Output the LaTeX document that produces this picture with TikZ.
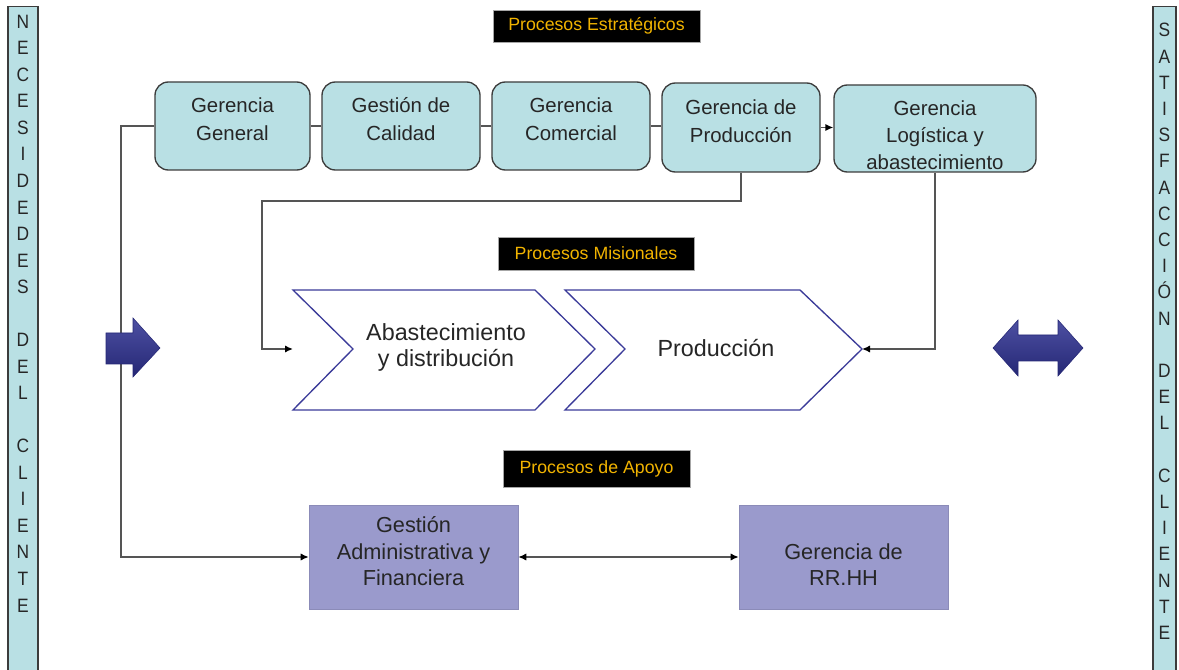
\documentclass[tikz,border=0pt]{standalone}
\usepackage{fontspec}
\setmainfont{Liberation Sans}
\newfontfamily\narrowfont[FakeStretch=0.9]{Liberation Sans}
\usetikzlibrary{arrows.meta}
\definecolor{boxcyan}{HTML}{B9E0E4}
\definecolor{boxedge}{HTML}{3C3C3C}
\definecolor{lav}{HTML}{9A9ACC}
\definecolor{chevblue}{HTML}{3B3B99}
\definecolor{arrowblue}{HTML}{2E3192}
\definecolor{goldtxt}{HTML}{F2B400}
\definecolor{txtgray}{HTML}{262626}
\definecolor{conngray}{HTML}{555555}
\begin{document}
\begin{tikzpicture}[x=0.75pt,y=-0.75pt,
  topbox/.style={draw=boxedge, line width=1pt, fill=boxcyan, rounded corners=10pt,
    minimum height=66pt, inner sep=0pt},
  boxtxt/.style={align=center, text=txtgray, font=\fontsize{15.3}{20.8}\selectfont, inner sep=0pt},
  sidebar/.style={draw=boxedge, line width=1pt, fill=boxcyan, inner sep=0pt},
  sidetxt/.style={align=center, text=txtgray, inner sep=0pt},
  chev/.style={draw=chevblue, line width=1pt, fill=white},
  chevtxt/.style={align=center, text=txtgray, font=\fontsize{17.5}{19.5}\selectfont, inner sep=0pt},
  lab/.style={fill=black, draw=gray!70, line width=0.5pt, text=goldtxt,
    font=\fontsize{13.3}{15}\selectfont, inner sep=0pt},
  botbox/.style={fill=lav, draw=lav!90!black, line width=0.4pt, minimum height=78pt, inner sep=0pt},
  bottxt/.style={align=center, text=txtgray, font=\fontsize{16.3}{19.9}\selectfont, inner sep=0pt},
  conn/.style={draw=conngray, line width=1.3pt},
  tip/.style={-{Latex[length=6pt,width=5.5pt,black]}},
  bigarrow/.style={top color=arrowblue!85!white, bottom color=arrowblue!80!black, draw=arrowblue!80!black, line width=0.4pt}
]
\useasboundingbox (0,0) rectangle (1179,670);

% side bars
\node[sidebar, minimum width=22.5pt, minimum height=505pt,
  label={[sidetxt, font=\narrowfont\fontsize{14.5}{19.9}\selectfont, yshift=22.5pt]center:N\\E\\C\\E\\S\\I\\D\\E\\D\\E\\S\\[19.9pt]D\\E\\L\\[19.9pt]C\\L\\I\\E\\N\\T\\E}]
  (nec) at (23,343.5) {};
\node[sidebar, minimum width=17.25pt, minimum height=505pt,
  label={[sidetxt, font=\narrowfont\fontsize{14.5}{19.65}\selectfont, yshift=9pt]center:S\\A\\T\\I\\S\\F\\A\\C\\C\\I\\Ó\\N\\[19.65pt]D\\E\\L\\[19.65pt]C\\L\\I\\E\\N\\T\\E}]
  (sat) at (1164.5,343.5) {};

% section labels
\node[lab, minimum width=155.25pt, minimum height=24pt] (pe) at (596.5,26) {Procesos Estratégicos};
\node[lab, minimum width=147pt, minimum height=24.75pt] (pm) at (596,253.5) {Procesos Misionales};
\node[lab, minimum width=140.25pt, minimum height=27.75pt] (pa) at (596.5,468.5) {Procesos de Apoyo};

% strategic boxes
\node[topbox, minimum width=116.25pt,
  label={[boxtxt, yshift=5.25pt]center:Gerencia\\General}] (b1) at (232.5,126) {};
\node[topbox, minimum width=118.5pt,
  label={[boxtxt, yshift=5.25pt]center:Gestión de\\Calidad}] (b2) at (401,126) {};
\node[topbox, minimum width=118.5pt,
  label={[boxtxt, yshift=5.25pt]center:Gerencia\\Comercial}] (b3) at (571,126) {};
\node[topbox, minimum width=118.5pt, minimum height=66.75pt,
  label={[boxtxt, yshift=4.9pt]center:Gerencia de\\Producción}] (b4) at (741,127.5) {};
\node[topbox, minimum width=151.5pt, minimum height=65.25pt,
  label={[boxtxt, font=\fontsize{15.3}{20.25}\selectfont, yshift=-4.9pt]center:Gerencia\\Logística y\\abastecimiento}] (b5) at (935,128.5) {};

% chevrons
\draw[chev] (293,290) -- (535,290) -- (595,349) -- (535,410) -- (293,410) -- (353,349) -- cycle;
\draw[chev] (565,290) -- (800,290) -- (862,349) -- (800,410) -- (565,410) -- (625,349) -- cycle;
\node[chevtxt] (abas) at (446,347) {Abastecimiento\\y distribución};
\node[chevtxt] (prod) at (716,348) {Producción};
\coordinate (abasin) at (293,349);
\coordinate (prodin) at (862,349);

% support boxes
\node[botbox, minimum width=156.75pt,
  label={[bottxt, yshift=4.1pt]center:Gestión\\Administrativa y\\Financiera}] (ga) at (413.5,557) {};
\node[botbox, minimum width=156.75pt,
  label={[bottxt, yshift=-5.6pt]center:Gerencia de\\RR.HH}] (rh) at (843.5,557) {};

% connectors
\draw[conn] (b1.east) -- (b2.west);
\draw[conn] (b2.east) -- (b3.west);
\draw[conn] (b3.east) -- (b3.east -| b4.west);
\draw[conn, tip] (b4.east) -- (b4.east -| b5.west);
\draw[conn, tip] (b4.south) |- ++(-479,28) |- (abasin);
\draw[conn, tip] (b5.south) |- (prodin);
\draw[conn, tip] (b1.west) -- ++(-33,0) |- (ga.west);
\draw[conn, {Latex[length=6pt,width=5.5pt,black]}-{Latex[length=6pt,width=5.5pt,black]}] (ga.east) -- (rh.west);

% big blue arrows
\path[bigarrow] (106,333) -- (133,333) -- (133,318) -- (160,348) -- (133,377) -- (133,364) -- (106,364) -- cycle;
\path[bigarrow] (993,348) -- (1018,320) -- (1018,335) -- (1058,335) -- (1058,320) -- (1083,348)
  -- (1058,376) -- (1058,361) -- (1018,361) -- (1018,376) -- cycle;
\end{tikzpicture}
\end{document}
